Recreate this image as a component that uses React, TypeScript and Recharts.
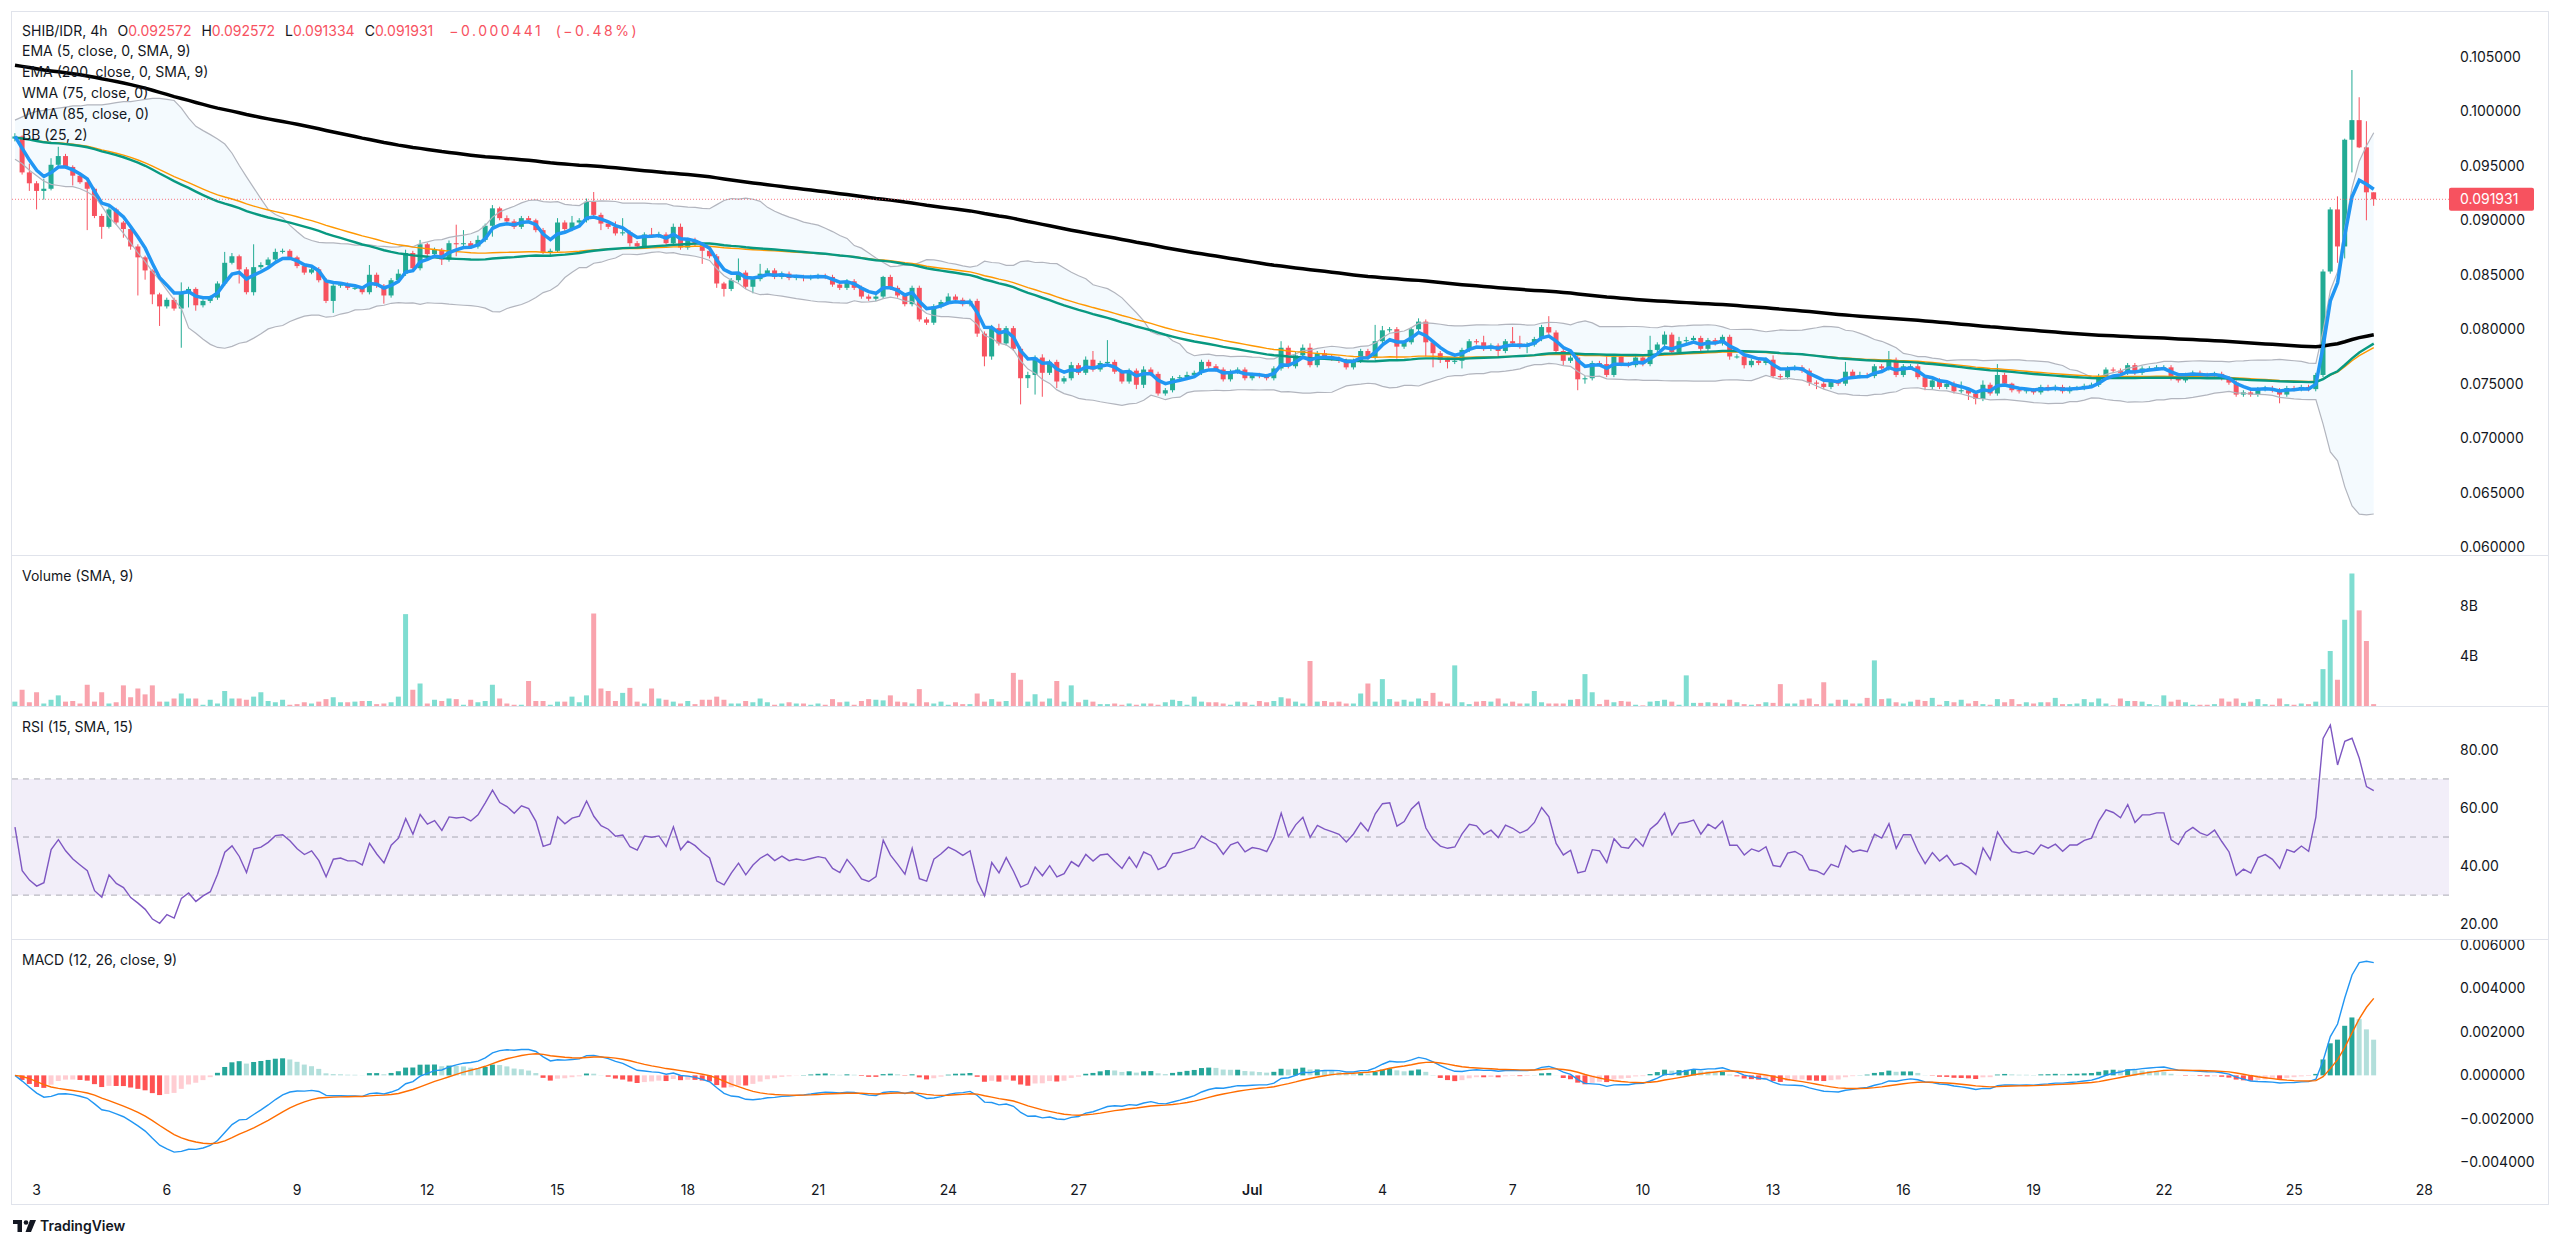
import React from 'react';
import { ComposedChart, Bar, Line, Area, XAxis, YAxis, ReferenceLine, ReferenceArea, Cell } from 'recharts';

// SHIB/IDR 4h candles, 2 Jun 12:00 -> 26 Jul 20:00. Closes in units of 1e-5.
const CLOSE = [
  9770, 9440, 9340, 9270, 9290, 9510, 9590, 9490, 9410, 9350,
  9290, 9040, 8940, 9100, 8980, 8920, 8760, 8660, 8540, 8320,
  8210, 8270, 8190, 8330, 8370, 8220, 8260, 8290, 8420, 8610,
  8670, 8550, 8340, 8570, 8590, 8640, 8710, 8720, 8660, 8580,
  8520, 8550, 8450, 8260, 8400, 8410, 8380, 8380, 8340, 8500,
  8400, 8310, 8450, 8510, 8700, 8560, 8780, 8690, 8730, 8640,
  8790, 8780, 8790, 8760, 8820, 8950, 9110, 9020, 8990, 8940,
  9020, 9000, 8910, 8700, 8720, 8980, 8920, 8980, 9000, 9170,
  9050, 8970, 8940, 8880, 8890, 8790, 8760, 8870, 8860, 8870,
  8790, 8940, 8750, 8820, 8780, 8720, 8670, 8420, 8370, 8450,
  8520, 8390, 8460, 8510, 8540, 8480, 8510, 8470, 8480, 8470,
  8480, 8490, 8480, 8410, 8380, 8440, 8380, 8300, 8280, 8300,
  8480, 8380, 8310, 8230, 8380, 8090, 8060, 8210, 8250, 8300,
  8270, 8230, 8260, 7960, 7750, 8010, 7870, 8010, 7820, 7550,
  7580, 7740, 7600, 7700, 7520, 7550, 7670, 7600, 7720, 7630,
  7690, 7700, 7610, 7520, 7620, 7490, 7630, 7590, 7410, 7440,
  7550, 7560, 7580, 7600, 7700, 7660, 7630, 7540, 7610, 7630,
  7550, 7580, 7570, 7550, 7640, 7830, 7660, 7760, 7830, 7670,
  7780, 7750, 7730, 7710, 7650, 7710, 7800, 7740, 7890, 7990,
  8000, 7840, 7880, 8000, 8070, 7880, 7780, 7720, 7700, 7710,
  7810, 7890, 7880, 7820, 7850, 7800, 7890, 7870, 7840, 7860,
  7910, 8020, 7970, 7800, 7710, 7740, 7540, 7550, 7690, 7680,
  7580, 7750, 7680, 7670, 7740, 7680, 7810, 7860, 7950, 7790,
  7890, 7900, 7920, 7820, 7900, 7870, 7930, 7750, 7750, 7670,
  7710, 7690, 7720, 7570, 7560, 7640, 7650, 7620, 7510, 7500,
  7470, 7520, 7500, 7610, 7570, 7580, 7570, 7660, 7640, 7720,
  7580, 7660, 7660, 7560, 7470, 7530, 7470, 7500, 7430, 7440,
  7410, 7360, 7490, 7410, 7580, 7500, 7440, 7430, 7440, 7420,
  7470, 7450, 7470, 7430, 7460, 7460, 7480, 7490, 7570, 7630,
  7620, 7600, 7670, 7600, 7640, 7640, 7650, 7650, 7550, 7530,
  7580, 7600, 7580, 7570, 7590, 7550, 7510, 7400, 7420, 7400,
  7450, 7460, 7440, 7400, 7460, 7450, 7470, 7450, 7580, 8530,
  9100, 8760, 9740, 9920, 9670, 9257.2, 9193.1,
];

// Upper / lower wick lengths beyond the body, units of 1e-5.
const WICK_UP = [
  30, 10, 80, 20, 90, 60, 85, 20, 15, 15,
  15, 10, 20, 20, 15, 15, 15, 20, 15, 10,
  15, 20, 20, 100, 20, 15, 15, 20, 20, 100,
  30, 15, 20, 210, 25, 20, 30, 20, 15, 15,
  20, 15, 20, 20, 25, 15, 20, 20, 15, 90,
  20, 15, 20, 40, 30, 20, 40, 15, 20, 15,
  25, 170, 120, 20, 40, 20, 30, 15, 25, 20,
  20, 20, 15, 20, 20, 40, 20, 60, 20, 30,
  90, 20, 20, 50, 130, 20, 20, 20, 60, 25,
  20, 30, 30, 20, 20, 20, 20, 20, 15, 20,
  130, 20, 20, 90, 20, 20, 20, 20, 20, 20,
  20, 20, 20, 20, 20, 20, 20, 20, 20, 20,
  10, 20, 20, 20, 20, 20, 20, 20, 20, 30,
  20, 20, 20, 20, 20, 30, 40, 20, 20, 20,
  30, 20, 30, 20, 20, 20, 30, 20, 30, 80,
  20, 200, 20, 20, 20, 20, 30, 20, 20, 20,
  20, 20, 30, 20, 20, 20, 20, 20, 20, 20,
  20, 20, 20, 20, 20, 60, 20, 30, 30, 40,
  20, 30, 20, 20, 20, 20, 20, 20, 150, 40,
  20, 20, 20, 20, 30, 20, 20, 20, 20, 60,
  20, 20, 20, 60, 20, 20, 20, 130, 70, 20,
  20, 20, 100, 20, 20, 20, 20, 20, 20, 20,
  70, 20, 20, 20, 20, 20, 130, 20, 30, 20,
  40, 30, 20, 20, 20, 20, 20, 20, 20, 20,
  20, 20, 20, 40, 20, 20, 20, 20, 20, 20,
  20, 20, 20, 90, 20, 30, 20, 20, 20, 80,
  20, 20, 20, 20, 20, 20, 20, 20, 20, 80,
  20, 20, 40, 20, 100, 20, 10, 20, 20, 20,
  20, 20, 20, 20, 20, 20, 20, 20, 20, 20,
  20, 20, 20, 20, 20, 20, 20, 20, 20, 20,
  20, 20, 20, 20, 20, 20, 20, 20, 20, 20,
  20, 20, 20, 20, 20, 20, 20, 20, 20, 20,
  20, 120, 10, 460, 210, 240, 0,
];

const WICK_DN = [
  25, 20, 70, 170, 80, 15, 15, 15, 90, 15,
  380, 20, 110, 15, 20, 80, 30, 350, 85, 90,
  180, 20, 20, 360, 130, 50, 20, 20, 20, 20,
  15, 130, 20, 30, 20, 15, 15, 15, 20, 20,
  20, 15, 20, 20, 110, 20, 20, 20, 20, 20,
  20, 75, 20, 20, 20, 20, 20, 20, 20, 50,
  20, 110, 20, 20, 20, 20, 100, 20, 20, 20,
  20, 20, 20, 10, 20, 20, 20, 20, 20, 20,
  20, 60, 20, 20, 20, 30, 20, 20, 20, 20,
  20, 20, 20, 20, 20, 120, 20, 40, 70, 20,
  20, 20, 60, 20, 20, 20, 20, 20, 20, 30,
  20, 20, 20, 20, 20, 20, 20, 20, 20, 20,
  20, 20, 20, 20, 20, 20, 20, 20, 20, 20,
  20, 20, 20, 30, 90, 30, 20, 20, 20, 240,
  90, 180, 220, 20, 60, 20, 20, 20, 20, 20,
  20, 20, 20, 20, 20, 40, 30, 20, 20, 20,
  20, 20, 20, 20, 20, 20, 20, 20, 20, 20,
  20, 20, 20, 20, 20, 20, 20, 20, 20, 20,
  20, 20, 20, 20, 20, 20, 20, 20, 20, 20,
  20, 110, 20, 20, 20, 130, 130, 30, 60, 20,
  70, 20, 20, 20, 20, 60, 20, 20, 20, 60,
  20, 20, 20, 20, 40, 20, 100, 40, 20, 20,
  20, 20, 20, 20, 20, 20, 20, 20, 20, 20,
  20, 20, 20, 20, 20, 20, 20, 30, 20, 30,
  20, 20, 20, 20, 20, 20, 20, 20, 30, 50,
  20, 20, 20, 20, 20, 20, 20, 20, 20, 20,
  20, 20, 20, 20, 30, 20, 20, 20, 20, 20,
  60, 50, 20, 20, 20, 20, 20, 20, 20, 20,
  20, 20, 20, 20, 20, 20, 20, 20, 20, 20,
  20, 20, 20, 20, 20, 20, 20, 20, 20, 20,
  20, 20, 20, 20, 20, 20, 20, 20, 20, 20,
  20, 20, 20, 80, 20, 20, 20, 20, 20, 20,
  20, 150, 110, 300, 7, 257, 59.7,
];

// Volume in billions
const VOLUME_B = [
  0.35, 1.3, 0.3, 1.1, 0.2, 0.5, 0.85, 0.35, 0.4, 0.2,
  1.7, 0.35, 1.1, 0.2, 0.3, 1.65, 0.7, 1.4, 0.93, 1.65,
  0.35, 0.35, 0.6, 1.0, 0.6, 0.6, 0.1, 0.5, 0.2, 1.2,
  0.6, 0.6, 0.5, 0.75, 1.1, 0.4, 0.3, 0.5, 0.1, 0.15,
  0.3, 0.2, 0.35, 0.55, 0.7, 0.3, 0.3, 0.35, 0.4, 0.4,
  0.15, 0.2, 0.3, 0.75, 7.35, 1.3, 1.8, 0.2, 0.5, 0.4,
  0.6, 0.55, 0.1, 0.5, 0.3, 0.4, 1.7, 0.6, 0.2, 0.1,
  0.1, 2.0, 0.4, 0.4, 0.1, 0.35, 0.35, 0.75, 0.3, 0.85,
  7.4, 1.4, 1.2, 0.4, 1.05, 1.45, 0.35, 0.2, 1.4, 0.6,
  0.5, 0.35, 0.2, 0.4, 0.15, 0.5, 0.5, 0.75, 0.5, 0.2,
  0.2, 0.4, 0.3, 0.6, 0.3, 0.1, 0.2, 0.3, 0.2, 0.2,
  0.1, 0.2, 0.1, 0.55, 0.3, 0.35, 0.1, 0.4, 0.55, 0.5,
  0.45, 0.85, 0.35, 0.3, 0.2, 1.35, 0.3, 0.2, 0.35, 0.1,
  0.3, 0.15, 0.15, 1.0, 0.35, 0.55, 0.35, 0.4, 2.65, 2.1,
  0.35, 0.95, 0.35, 0.6, 2.0, 0.35, 1.65, 0.3, 0.5, 0.35,
  0.15, 0.15, 0.2, 0.1, 0.2, 0.1, 0.2, 0.2, 0.1, 0.3,
  0.5, 0.4, 0.1, 0.75, 0.35, 0.3, 0.3, 0.2, 0.1, 0.35,
  0.3, 0.1, 0.4, 0.3, 0.4, 0.7, 0.6, 0.35, 0.2, 3.6,
  0.35, 0.4, 0.3, 0.35, 0.2, 0.2, 1.0, 1.8, 0.35, 2.15,
  0.55, 0.35, 0.5, 0.35, 0.6, 0.4, 1.05, 0.35, 0.2, 3.25,
  0.3, 0.15, 0.35, 0.4, 0.35, 0.6, 0.2, 0.35, 0.2, 0.2,
  1.2, 0.3, 0.2, 0.2, 0.2, 0.5, 0.55, 2.55, 1.1, 0.15,
  0.5, 0.3, 0.4, 0.35, 0.1, 0.05, 0.35, 0.4, 0.5, 0.35,
  0.1, 2.45, 0.25, 0.25, 0.3, 0.25, 0.2, 0.5, 0.3, 0.15,
  0.1, 0.15, 0.3, 0.25, 1.75, 0.2, 0.2, 0.5, 0.6, 0.15,
  1.9, 0.2, 0.5, 0.5, 0.2, 0.2, 0.65, 3.65, 0.55, 0.6,
  0.3, 0.2, 0.35, 0.5, 0.4, 0.65, 0.1, 0.4, 0.3, 0.5,
  0.2, 0.4, 0.15, 0.1, 0.55, 0.3, 0.55, 0.15, 0.3, 0.2,
  0.3, 0.3, 0.65, 0.15, 0.15, 0.2, 0.55, 0.3, 0.6, 0.2,
  0.05, 0.6, 0.4, 0.4, 0.35, 0.15, 0.05, 0.85, 0.35, 0.5,
  0.3, 0.1, 0.1, 0.1, 0.15, 0.6, 0.35, 0.6, 0.25, 0.35,
  0.55, 0.15, 0.1, 0.6, 0.15, 0.1, 0.2, 0.15, 0.35, 2.95,
  4.4, 2.1, 6.9, 10.6, 7.65, 5.2, 0.15,
];

// Bollinger band edges read for the first 24 candles (window not yet full), units of 1e-5
const BB_UPPER_EARLY = [9920, 9950, 9980, 10000, 10010, 10020, 10030, 10040, 10050, 10050, 10060, 10060, 10060, 10070, 10080, 10090, 10090, 10100, 10110, 10120, 10120, 10110, 10100, 10030];
const BB_LOWER_EARLY = [9560, 9520, 9460, 9410, 9360, 9330, 9320, 9310, 9310, 9290, 9260, 9220, 9130, 9030, 8960, 8880, 8790, 8700, 8620, 8530, 8450, 8360, 8270, 8190];

// Levels read at the left edge (history before the visible window)
const FIRST_OPEN = 0.0975;
const EMA200_START = 0.1043;
const WMA_START = 0.0976;
const RSI_START_GAIN = 0.00033;
const RSI_START_LOSS = 0.0003;

const PRICE_TICKS = [0.06, 0.065, 0.07, 0.075, 0.08, 0.085, 0.09, 0.095, 0.1, 0.105];
const VOLUME_TICKS = [4, 8];
const RSI_TICKS = [20, 40, 60, 80];
const MACD_TICKS = [-0.004, -0.002, 0, 0.002, 0.004, 0.006];
const DATE_TICK_INDEX = [3, 21, 39, 57, 75, 93, 111, 129, 147, 171, 189, 207, 225, 243, 261, 279, 297, 315, 333];
const DATE_TICK_LABEL = ['3', '6', '9', '12', '15', '18', '21', '24', '27', 'Jul', '4', '7', '10', '13', '16', '19', '22', '25', '28'];

const PRICE_DOMAIN = [0.05927, 0.10922];
const VOLUME_DOMAIN = [0, 12.08];
const RSI_DOMAIN = [14.9, 95.1];
const MACD_DOMAIN = [-0.00468, 0.00628];
const X_DOMAIN = [-0.55, 336.4];

const UP = '#22AB94';
const DOWN = '#F7525F';
const FONT = 'Inter, "Noto Sans", Roboto, sans-serif';
const TEXT = '#131722';

// ---------- build rows & indicators ----------
const closes = CLOSE.map((v) => v / 1e5);
const wmaAt = (i: number, n: number) => {
  let s = 0;
  let w = 0;
  for (let j = 0; j < n; j++) {
    const k = i - j;
    const p = k < 0 ? WMA_START : closes[k];
    s += (n - j) * p;
    w += n - j;
  }
  return s / w;
};

let ema5 = closes[0];
let ema200 = EMA200_START;
let e12 = closes[0];
let e26 = closes[0];
let sig = 0;
let prevHist = 0;
let ag = RSI_START_GAIN;
let al = RSI_START_LOSS;

const rows = closes.map((close, i) => {
  const open = i === 0 ? FIRST_OPEN : closes[i - 1];
  const high = Math.max(open, close) + WICK_UP[i] / 1e5;
  const low = Math.min(open, close) - WICK_DN[i] / 1e5;
  ema5 += (2 / 6) * (close - ema5);
  ema200 += (2 / 201) * (close - ema200);
  e12 += (2 / 13) * (close - e12);
  e26 += (2 / 27) * (close - e26);
  const macd = e12 - e26;
  sig += (2 / 10) * (macd - sig);
  const hist = macd - sig;
  let histColor;
  if (hist >= 0) histColor = hist >= prevHist ? '#26A69A' : '#B2DFDB';
  else histColor = hist <= prevHist ? '#FF5252' : '#FFCDD2';
  prevHist = hist;
  const ch = close - open;
  ag = (ag * 14 + Math.max(ch, 0)) / 15;
  al = (al * 14 + Math.max(-ch, 0)) / 15;
  const rsi = 100 - 100 / (1 + ag / al);
  let bbU;
  let bbL;
  if (i < 24) {
    bbU = BB_UPPER_EARLY[i] / 1e5;
    bbL = BB_LOWER_EARLY[i] / 1e5;
  } else {
    const win = closes.slice(i - 24, i + 1);
    const m = win.reduce((a, b) => a + b, 0) / 25;
    const sd = Math.sqrt(win.reduce((a, b) => a + (b - m) * (b - m), 0) / 25);
    bbU = m + 2 * sd;
    bbL = m - 2 * sd;
  }
  return {
    i,
    open,
    close,
    high,
    low,
    up: close >= open,
    vol: VOLUME_B[i],
    ema5,
    ema200,
    wma75: wmaAt(i, 75),
    wma85: wmaAt(i, 85),
    bbU,
    bbL,
    macd,
    signal: sig,
    hist,
    histColor,
    rsi,
  };
});

const LAST = rows[rows.length - 1];

// ---------- shapes ----------
const Candle = (props: any) => {
  const { x, y, width, height, payload } = props;
  if (!payload || height == null) return null;
  const { open, close, high, low } = payload;
  const color = close >= open ? UP : DOWN;
  const span = high - low;
  const py = (v: number) => (span > 0 ? y + ((high - v) / span) * height : y);
  const cx = x + width / 2;
  const top = py(Math.max(open, close));
  const bot = py(Math.min(open, close));
  return (
    <g>
      <line x1={cx} x2={cx} y1={y} y2={y + height} stroke={color} strokeWidth={1} />
      <rect x={x} y={top} width={width} height={Math.max(1, bot - top)} fill={color} />
    </g>
  );
};

const PriceTag = (props: any) => {
  const vb = props.viewBox || {};
  const x = vb.x + vb.width;
  const y = vb.y;
  return (
    <g>
      <rect x={x} y={y - 11.5} width={85} height={23} rx={2} fill={DOWN} />
      <text x={x + 11} y={y} dy="0.36em" fill="#FFFFFF" fontSize={14} fontFamily={FONT}>
        {LAST.close.toFixed(6)}
      </text>
    </g>
  );
};

const DateTick = (props: any) => {
  const { x, y, payload } = props;
  const idx = DATE_TICK_INDEX.indexOf(payload.value);
  const label = DATE_TICK_LABEL[idx] ?? '';
  return (
    <text x={x} y={y} dy={10} textAnchor="middle" fill={TEXT} fontSize={14} fontFamily={FONT} fontWeight={label === 'Jul' ? 600 : 400}>
      {label}
    </text>
  );
};

const tickStyle = { fill: TEXT, fontSize: 14, fontFamily: FONT };
const fmtMinus = (s: string) => s.replace('-', '\u2212');

const CHART_W = 2537;
const AXIS_W = 99;

const legendStyle: React.CSSProperties = {
  position: 'absolute',
  left: 22,
  fontFamily: FONT,
  fontSize: 14,
  lineHeight: '20.8px',
  color: TEXT,
  whiteSpace: 'nowrap',
  pointerEvents: 'none',
};

const red: React.CSSProperties = { color: DOWN };

export default function App() {
  return (
    <div style={{ position: 'absolute', left: 0, top: 0, width: 2560, height: 1247, background: '#FFFFFF', overflow: 'hidden' }}>
      {/* main price panel */}
      <div style={{ position: 'absolute', left: 11, top: 11 }}>
        <ComposedChart width={CHART_W} height={544} data={rows} margin={{ top: 0, right: 0, bottom: 0, left: 0 }}>
          <XAxis dataKey="i" type="number" domain={X_DOMAIN} ticks={DATE_TICK_INDEX} hide allowDataOverflow />
          <YAxis
            orientation="right"
            width={AXIS_W}
            domain={PRICE_DOMAIN}
            ticks={PRICE_TICKS}
            interval={0}
            allowDataOverflow
            axisLine={false}
            tickLine={false}
            tickMargin={5}
            tick={tickStyle}
            tickFormatter={(v: number) => v.toFixed(6)}
          />
          <Area dataKey={(d: any) => [d.bbL, d.bbU]} stroke="none" fill="#2196F3" fillOpacity={0.05} isAnimationActive={false} />
          <Line dataKey="bbU" stroke="#B2B5BE" strokeWidth={1.2} dot={false} isAnimationActive={false} />
          <Line dataKey="bbL" stroke="#B2B5BE" strokeWidth={1.2} dot={false} isAnimationActive={false} />
          <Bar dataKey={(d: any) => [d.low, d.high]} barSize={5} shape={(p: any) => <Candle {...p} />} isAnimationActive={false} />
          <Line dataKey="wma85" stroke="#FF9800" strokeWidth={1.4} dot={false} isAnimationActive={false} />
          <Line dataKey="wma75" stroke="#089981" strokeWidth={2.4} dot={false} isAnimationActive={false} />
          <Line dataKey="ema200" stroke="#000000" strokeWidth={3.5} dot={false} isAnimationActive={false} />
          <Line dataKey="ema5" stroke="#2196F3" strokeWidth={3.5} dot={false} isAnimationActive={false} />
          <ReferenceLine y={LAST.close} stroke={DOWN} strokeOpacity={0.8} strokeDasharray="1 2" label={(p: any) => <PriceTag {...p} />} />
        </ComposedChart>
      </div>

      {/* volume panel */}
      <div style={{ position: 'absolute', left: 11, top: 555 }}>
        <ComposedChart width={CHART_W} height={151} data={rows} margin={{ top: 0, right: 0, bottom: 0, left: 0 }}>
          <XAxis dataKey="i" type="number" domain={X_DOMAIN} ticks={DATE_TICK_INDEX} hide allowDataOverflow />
          <YAxis
            orientation="right"
            width={AXIS_W}
            domain={VOLUME_DOMAIN}
            ticks={VOLUME_TICKS}
            interval={0}
            allowDataOverflow
            axisLine={false}
            tickLine={false}
            tickMargin={5}
            tick={tickStyle}
            tickFormatter={(v: number) => `${v}B`}
          />
          <Bar dataKey="vol" barSize={5} isAnimationActive={false}>
            {rows.map((r) => (
              <Cell key={r.i} fill={r.up ? '#7FDDD1' : '#F9A3AD'} />
            ))}
          </Bar>
        </ComposedChart>
      </div>

      {/* RSI panel */}
      <div style={{ position: 'absolute', left: 11, top: 706 }}>
        <ComposedChart width={CHART_W} height={233} data={rows} margin={{ top: 0, right: 0, bottom: 0, left: 0 }}>
          <XAxis dataKey="i" type="number" domain={X_DOMAIN} ticks={DATE_TICK_INDEX} hide allowDataOverflow />
          <YAxis
            orientation="right"
            width={AXIS_W}
            domain={RSI_DOMAIN}
            ticks={RSI_TICKS}
            interval={0}
            allowDataOverflow
            axisLine={false}
            tickLine={false}
            tickMargin={5}
            tick={tickStyle}
            tickFormatter={(v: number) => v.toFixed(2)}
          />
          <ReferenceArea y1={30} y2={70} fill="#7E57C2" fillOpacity={0.1} stroke="none" />
          <ReferenceLine y={70} stroke="#787B86" strokeOpacity={0.6} strokeDasharray="6 5" />
          <ReferenceLine y={50} stroke="#787B86" strokeOpacity={0.6} strokeDasharray="6 5" />
          <ReferenceLine y={30} stroke="#787B86" strokeOpacity={0.6} strokeDasharray="6 5" />
          <Line dataKey="rsi" stroke="#7E57C2" strokeWidth={1.4} dot={false} isAnimationActive={false} />
        </ComposedChart>
      </div>

      {/* MACD panel + time axis (10px top margin so the top tick label is not clipped) */}
      <div style={{ position: 'absolute', left: 11, top: 929 }}>
        <ComposedChart width={CHART_W} height={275} data={rows} margin={{ top: 10, right: 0, bottom: 0, left: 0 }}>
          <XAxis
            dataKey="i"
            type="number"
            domain={X_DOMAIN}
            ticks={DATE_TICK_INDEX}
            interval={0}
            allowDataOverflow
            height={27}
            axisLine={false}
            tickLine={false}
            tick={(p: any) => <DateTick {...p} />}
          />
          <YAxis
            orientation="right"
            width={AXIS_W}
            domain={MACD_DOMAIN}
            ticks={MACD_TICKS}
            interval={0}
            allowDataOverflow
            axisLine={false}
            tickLine={false}
            tickMargin={5}
            tick={tickStyle}
            tickFormatter={(v: number) => fmtMinus(v.toFixed(6))}
          />
          <Bar dataKey="hist" barSize={5} isAnimationActive={false}>
            {rows.map((r) => (
              <Cell key={r.i} fill={r.histColor} />
            ))}
          </Bar>
          <Line dataKey="macd" stroke="#2196F3" strokeWidth={1.4} dot={false} isAnimationActive={false} />
          <Line dataKey="signal" stroke="#FF6D00" strokeWidth={1.4} dot={false} isAnimationActive={false} />
        </ComposedChart>
      </div>

      {/* frame and separators */}
      <div style={{ position: 'absolute', left: 11, top: 11, width: 2538, height: 1194, border: '1px solid #E0E3EB', boxSizing: 'border-box', pointerEvents: 'none' }} />
      {[555, 706, 939].map((t) => (
        <div key={t} style={{ position: 'absolute', left: 11, top: t, width: 2538, height: 0, borderTop: '1px solid #E0E3EB' }} />
      ))}

      {/* legends */}
      <div style={{ ...legendStyle, top: 20.6 }}>
        <div>
          SHIB/IDR, 4h<span style={{ marginLeft: 10 }}>O</span>
          <span style={red}>0.092572</span>
          <span style={{ marginLeft: 10 }}>H</span>
          <span style={red}>0.092572</span>
          <span style={{ marginLeft: 10 }}>L</span>
          <span style={red}>0.091334</span>
          <span style={{ marginLeft: 10 }}>C</span>
          <span style={red}>0.091931</span>
          <span style={{ ...red, marginLeft: 16, letterSpacing: 2.5, wordSpacing: 6 }}>{'\u22120.000441 (\u22120.48%)'}</span>
        </div>
        <div>EMA (5, close, 0, SMA, 9)</div>
        <div>EMA (200, close, 0, SMA, 9)</div>
        <div>WMA (75, close, 0)</div>
        <div>WMA (85, close, 0)</div>
        <div>BB (25, 2)</div>
      </div>
      <div style={{ ...legendStyle, top: 566 }}>Volume (SMA, 9)</div>
      <div style={{ ...legendStyle, top: 717 }}>RSI (15, SMA, 15)</div>
      <div style={{ ...legendStyle, top: 950 }}>MACD (12, 26, close, 9)</div>

      {/* TradingView logo */}
      <div style={{ position: 'absolute', left: 13, top: 1217, display: 'flex', alignItems: 'center', fontFamily: FONT, fontSize: 14, fontWeight: 600, color: TEXT }}>
        <svg width={24} height={16} viewBox="0 0 24 16">
          <rect x={0} y={2} width={9} height={4} fill={TEXT} />
          <rect x={4.5} y={2} width={4.5} height={12} fill={TEXT} />
          <circle cx={13} cy={4.5} r={2.3} fill={TEXT} />
          <path d="M17 2 L23 2 L18 14 L12.5 14 Z" fill={TEXT} />
        </svg>
        <span style={{ marginLeft: 3 }}>TradingView</span>
      </div>
    </div>
  );
}
